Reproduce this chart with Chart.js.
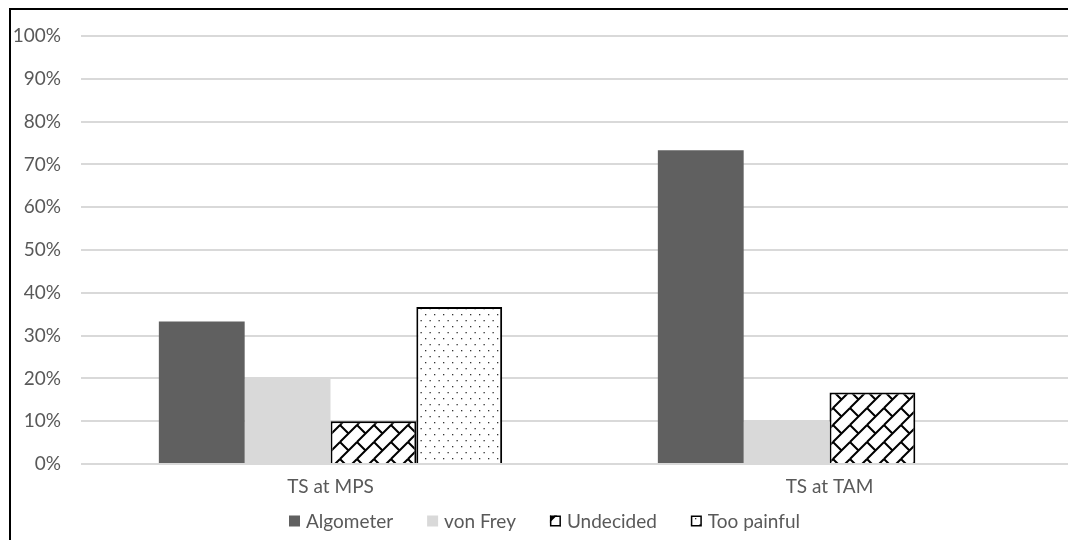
<!DOCTYPE html>
<html>
<head>
<meta charset="utf-8">
<script src="https://cdn.jsdelivr.net/npm/chart.js@4/dist/chart.umd.min.js"></script>
<style>
  html, body { margin: 0; padding: 0; background: #fff; overflow: hidden; }
  #wrap { position: absolute; left: 0; top: 0; width: 1090px; height: 540px; }
  #frame { position: absolute; left: 9px; top: 8px; width: 1200px; height: 700px;
           border-left: 2px solid #000; border-top: 2px solid #000; pointer-events: none; }
</style>
</head>
<body>
<div id="wrap"><canvas id="c" width="1090" height="540"></canvas></div>
<div id="frame"></div>
<script>
// Categories and series values (percent of responses)
const categories = ['TS at MPS', 'TS at TAM'];
const algometer  = [33.3, 73.3];
const vonFrey    = [20.0, 10.0];
const undecided  = [10.0, 16.7];
const tooPainful = [36.7, 0.0];
const yTicks     = [0, 10, 20, 30, 40, 50, 60, 70, 80, 90, 100];

// Diagonal brick hatch
function brickPattern() {
  const T = 17;
  const cv = document.createElement('canvas');
  cv.width = T; cv.height = T;
  const g = cv.getContext('2d');
  g.fillStyle = '#fff'; g.fillRect(0, 0, T, T);
  g.strokeStyle = '#000'; g.lineWidth = 2;
  for (let dx = -T; dx <= T; dx += T) {
    for (let dy = -T; dy <= T; dy += T) {
      g.beginPath();
      g.moveTo(dx, dy + T); g.lineTo(dx + T, dy);          // long up-right line
      g.moveTo(dx + T / 2, dy + T / 2); g.lineTo(dx, dy);   // short cross segment
      g.stroke();
    }
  }
  return g.createPattern(cv, 'repeat');
}

// Sparse dot fill
function dotPattern() {
  const cv = document.createElement('canvas');
  cv.width = 9; cv.height = 12;
  const g = cv.getContext('2d');
  g.fillStyle = '#fff'; g.fillRect(0, 0, 9, 12);
  g.fillStyle = '#333';
  g.fillRect(2, 2, 1.3, 1.3);
  g.fillRect(6.5, 8, 1.3, 1.3);
  return g.createPattern(cv, 'repeat');
}

const brick = brickPattern();
const dots = dotPattern();
const FONT = 'Lato, "Open Sans", sans-serif';
const FSIZE = 19;
const TXT = '#595959';

// Legend row drawn under the axis: square swatch, then the series name
const bottomLegend = {
  id: 'bottomLegend',
  afterDraw(chart) {
    const ctx = chart.ctx;
    const box = 11, gapText = 6, gapItem = 34, yMid = 521;
    let x = 289;
    ctx.save();
    ctx.font = FSIZE + 'px ' + FONT;
    ctx.textBaseline = 'middle';
    ctx.textAlign = 'left';
    chart.data.datasets.forEach(d => {
      ctx.fillStyle = d.backgroundColor;
      ctx.fillRect(x, yMid - box / 2, box, box);
      if (d.borderWidth) {
        ctx.strokeStyle = '#000';
        ctx.lineWidth = 1.5;
        ctx.strokeRect(x + 0.75, yMid - box / 2 + 0.75, box - 1.5, box - 1.5);
      }
      x += box + gapText;
      ctx.fillStyle = TXT;
      ctx.fillText(d.label, x, yMid + 1);
      x += ctx.measureText(d.label).width + gapItem;
    });
    ctx.restore();
  }
};

new Chart(document.getElementById('c'), {
  type: 'bar',
  data: {
    labels: categories,
    datasets: [
      { label: 'Algometer', data: algometer, backgroundColor: '#606060', borderWidth: 0 },
      { label: 'von Frey', data: vonFrey, backgroundColor: '#d9d9d9', borderWidth: 0 },
      { label: 'Undecided', data: undecided, backgroundColor: brick, borderColor: '#000', borderWidth: 2 },
      { label: 'Too painful', data: tooPainful, backgroundColor: dots, borderColor: '#000', borderWidth: 2 }
    ]
  },
  plugins: [bottomLegend],
  options: {
    responsive: false,
    animation: false,
    events: [],
    layout: { padding: { top: 36, right: 11, bottom: 40, left: 0 } },
    datasets: { bar: { categoryPercentage: 0.688, barPercentage: 1.0 } },
    scales: {
      x: {
        afterFit: s => { s.height = 36; },
        grid: { display: false },
        border: { display: false },
        ticks: { color: TXT, font: { family: FONT, size: FSIZE }, padding: 3 }
      },
      y: {
        min: 0, max: 100,
        afterBuildTicks: s => { s.ticks = yTicks.map(v => ({ value: v })); },
        afterFit: s => { s.width = 81; },
        grid: { color: '#d9d9d9', lineWidth: 2, drawTicks: false },
        border: { display: false },
        ticks: { color: TXT, font: { family: FONT, size: FSIZE }, padding: 20,
                 callback: v => v + '%' }
      }
    },
    plugins: {
      tooltip: { enabled: false },
      legend: { display: false }
    }
  }
});
</script>
</body>
</html>
